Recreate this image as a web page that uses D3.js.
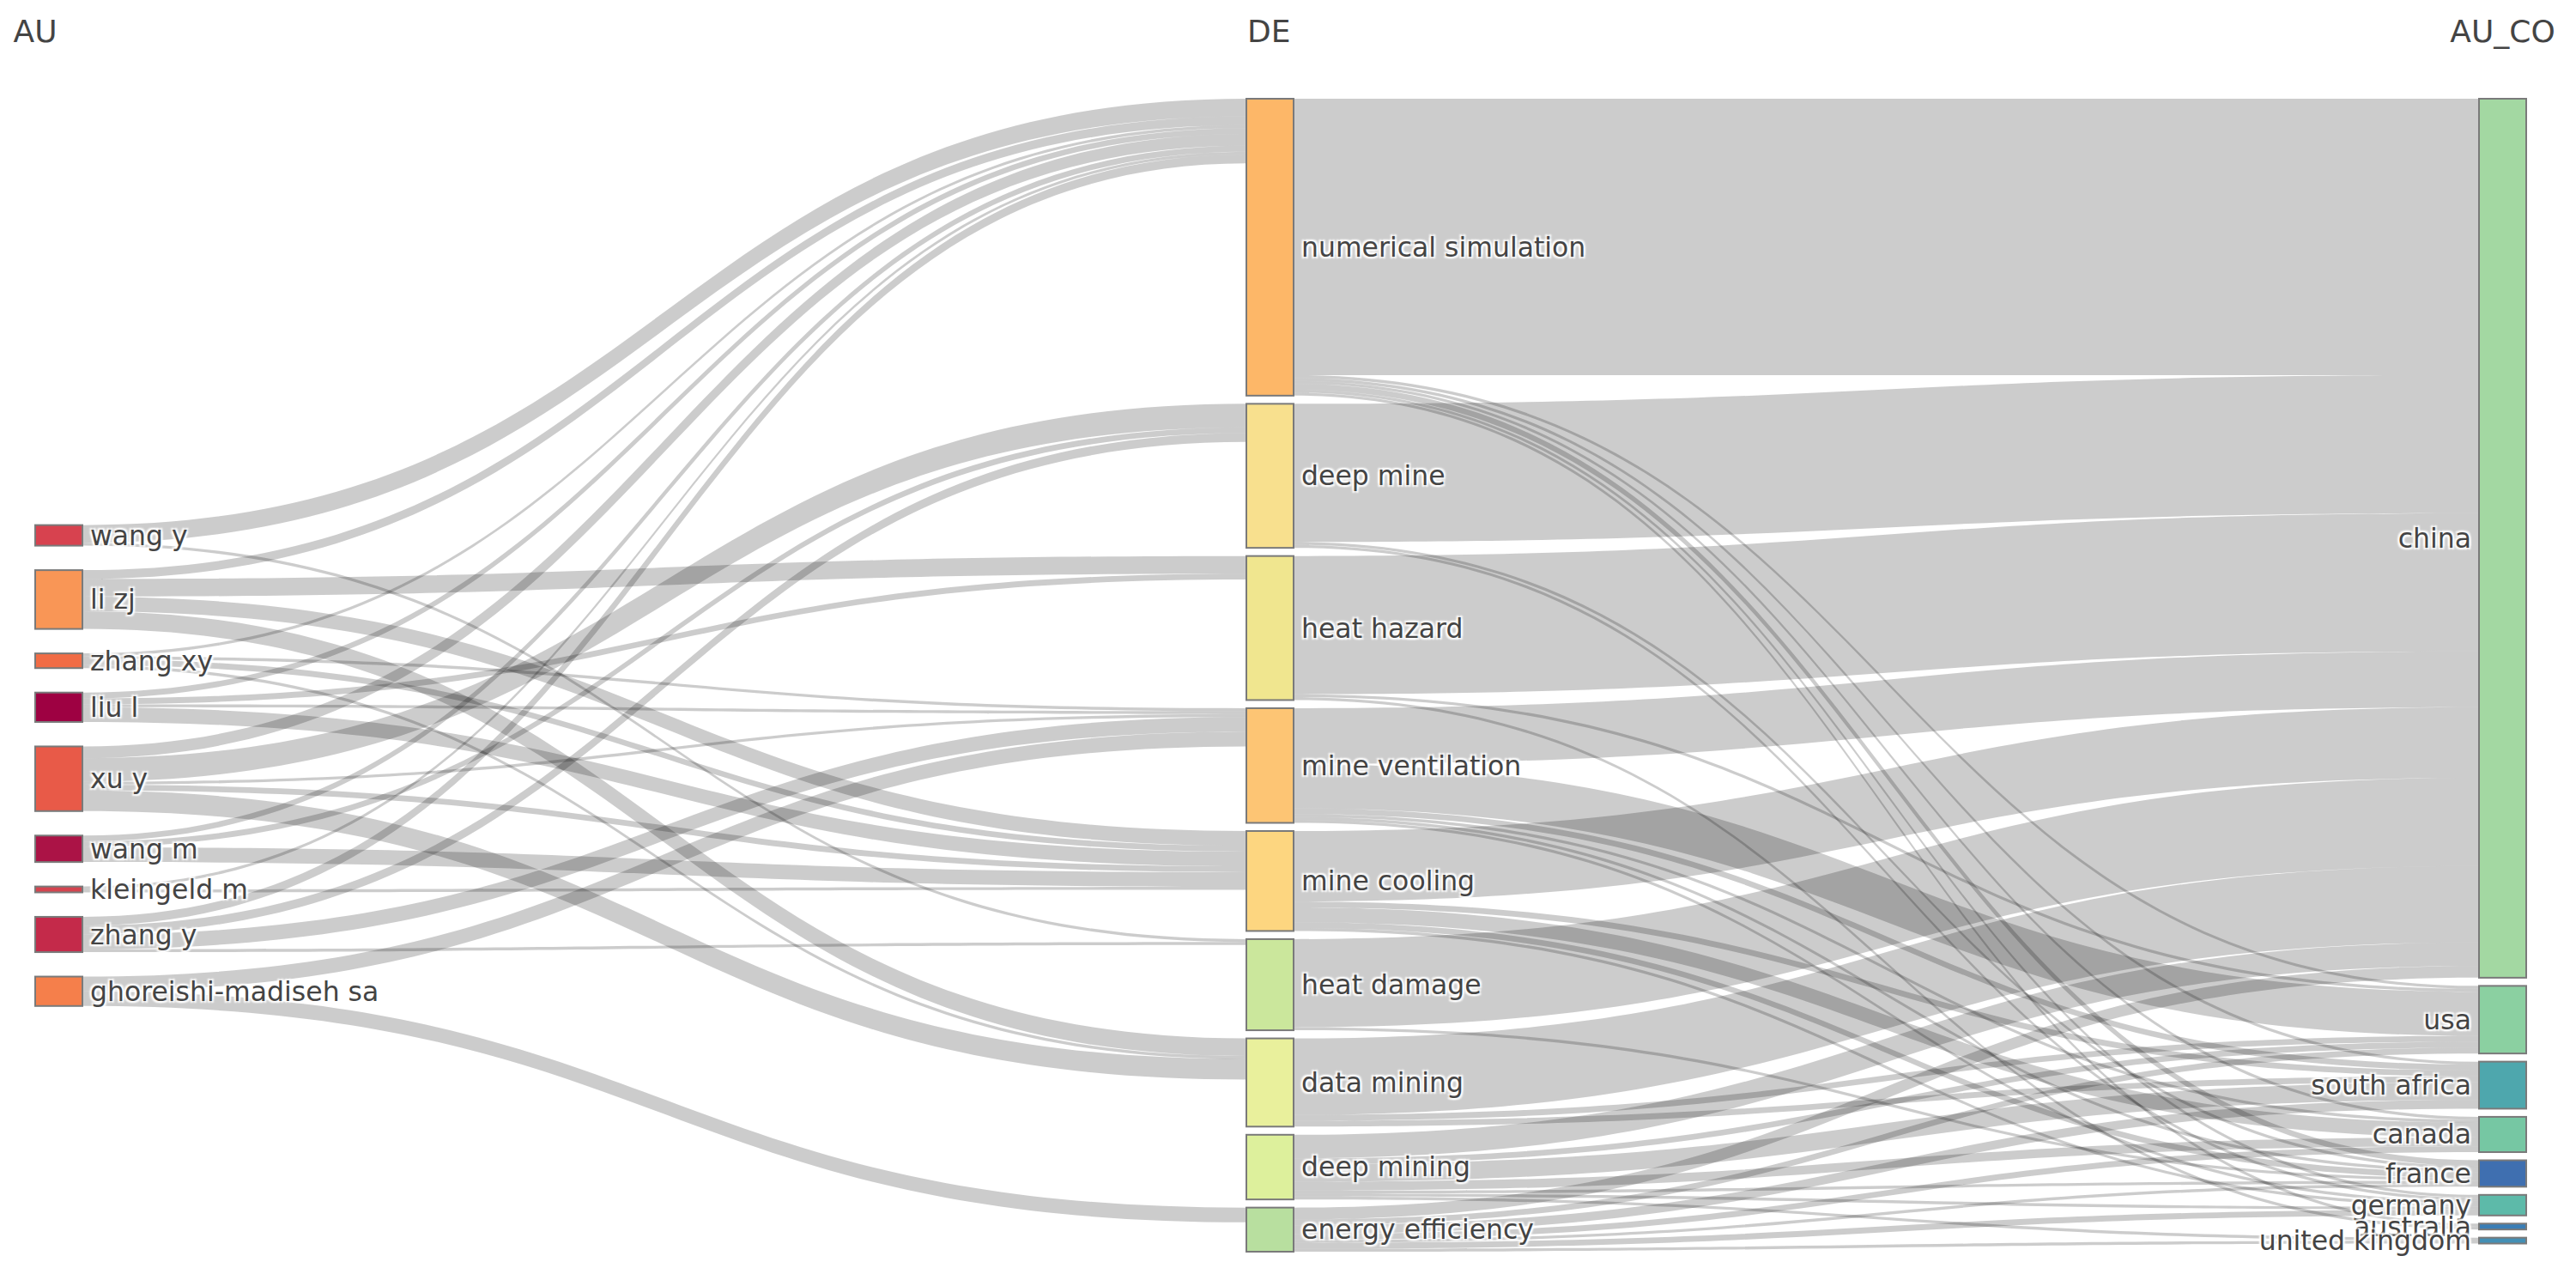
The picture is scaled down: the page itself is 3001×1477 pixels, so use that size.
<!DOCTYPE html>
<html>
<head>
<meta charset="utf-8">
<script src="https://d3js.org/d3.v7.min.js"></script>
<style>
  body { margin: 0; background: #fff; }
  text { font-family: "DejaVu Sans", Verdana, sans-serif; fill: #444; }
  .label {
    font-size: 31.5px;
    text-shadow: 2px 2px 2px #fff, -2px -2px 2px #fff, 2px -2px 2px #fff, -2px 2px 2px #fff;
  }
  .title { font-size: 36px; }
</style>
</head>
<body>
<svg id="chart"></svg>
<script>
// three fields: authors -> keywords -> author countries
const fieldTitles = ["AU", "DE", "AU_CO"];

const authors = ["wang y", "li zj", "zhang xy", "liu l", "xu y", "wang m",
                 "kleingeld m", "zhang y", "ghoreishi-madiseh sa"];
const keywords = ["numerical simulation", "deep mine", "heat hazard", "mine ventilation",
                  "mine cooling", "heat damage", "data mining", "deep mining", "energy efficiency"];
const countries = ["china", "usa", "south africa", "canada", "france", "germany",
                   "australia", "united kingdom"];

// rows = authors, columns = keywords (order as above)
const authorKeywordCounts = [
  [6, 0, 0, 0, 0, 1, 0, 0, 0],
  [3, 0, 6, 0, 5, 0, 6, 0, 0],
  [1, 0, 0, 1, 2, 0, 1, 0, 0],
  [2, 0, 2, 1, 5, 0, 0, 0, 0],
  [4, 8, 0, 1, 2, 0, 7, 0, 0],
  [2, 2, 0, 0, 5, 0, 0, 0, 0],
  [1, 0, 0, 0, 1, 0, 0, 0, 0],
  [3, 3, 0, 5, 0, 1, 0, 0, 0],
  [0, 0, 0, 5, 0, 0, 0, 0, 5]
];

// rows = keywords, columns = countries
const keywordCountryCounts = [
  [94, 1, 1, 1, 2, 1, 1, 0],
  [47, 0, 0, 0, 1, 1, 0, 0],
  [47, 1, 0, 0, 0, 0, 1, 0],
  [19, 15, 2, 1, 1, 1, 0, 0],
  [24, 0, 2, 5, 2, 1, 0, 0],
  [30, 0, 0, 0, 1, 0, 0, 0],
  [26, 2, 2, 0, 0, 0, 0, 0],
  [8, 2, 6, 3, 1, 1, 0, 1],
  [4, 2, 3, 2, 1, 2, 0, 1]
];

// node colours
const authorColors = ["#d7424f", "#f99656", "#f16c45", "#9e0142", "#e85a48",
                      "#ab1346", "#d5444f", "#c42a4a", "#f57f4b"];
const keywordColors = ["#fdb768", "#f8e08e", "#f0e68f", "#fdc574", "#fdd680",
                       "#cbe79c", "#e9f09c", "#ddf09c", "#b8df9f"];
const countryColors = ["#a3d8a2", "#8bd0a1", "#4ea7ad", "#76c7a3", "#3f6fb0",
                       "#5dbaa9", "#3a7eb6", "#438fb5"];

// layout
const width = 3001, height = 1477;
const nodeWidth = 55, nodePad = 9.5;
const sparsePad = nodePad * 3; // the thin author column is spread out
const plotTop = 115, plotBottom = 1458;
const linkColor = "rgba(0,0,0,0.2)";

const svg = d3.select("#chart")
  .attr("width", width)
  .attr("height", height)
  .style("background-color", "white");

const columns = [authors, keywords, countries];
const palettes = [authorColors, keywordColors, countryColors];

const nodes = [];
columns.forEach((names, c) => {
  names.forEach((name, i) => {
    nodes.push({name: name, col: c, color: palettes[c][i], sourceLinks: [], targetLinks: []});
  });
});
const byCol = [0, 1, 2].map(c => nodes.filter(n => n.col === c));

const links = [];
const addLinks = (matrix, fromCol, toCol) => {
  matrix.forEach((row, i) => {
    row.forEach((v, j) => {
      if (v > 0) {
        const l = {source: byCol[fromCol][i], target: byCol[toCol][j], value: v};
        links.push(l);
        l.source.sourceLinks.push(l);
        l.target.targetLinks.push(l);
      }
    });
  });
};
addLinks(authorKeywordCounts, 0, 1);
addLinks(keywordCountryCounts, 1, 2);

nodes.forEach(n => {
  n.value = Math.max(d3.sum(n.sourceLinks, l => l.value), d3.sum(n.targetLinks, l => l.value));
});

// same scale for every column, set by the fullest one
const ky = d3.min(byCol, col =>
  (plotBottom - plotTop - (col.length - 1) * nodePad) / d3.sum(col, n => n.value));
const thickness = d3.scaleLinear().domain([0, 1]).range([0, ky]);
const x = d3.scaleLinear().domain([0, 1, 2]).range([41, 1452, 2888]);

const stack = (col, start, pad) => {
  let y = start;
  col.forEach(n => {
    n.y0 = y;
    n.y1 = y + thickness(n.value);
    y = n.y1 + pad;
  });
};
stack(byCol[1], plotTop, nodePad);
stack(byCol[2], plotTop, nodePad);

// author column: one block centred on the weighted median of where its flows land
const centre = n => (n.y0 + n.y1) / 2;
const flows = byCol[0].flatMap(n => n.sourceLinks)
  .map(l => ({y: centre(l.target), v: l.value}))
  .sort((a, b) => a.y - b.y);
const half = d3.sum(flows, f => f.v) / 2;
let acc = 0;
const flowCentre = flows.find(f => (acc += f.v) >= half).y;
const blockHeight = d3.sum(byCol[0], n => thickness(n.value)) + (byCol[0].length - 1) * sparsePad;
stack(byCol[0],
  Math.max(plotTop, Math.min(plotBottom - blockHeight, flowCentre - blockHeight / 2)),
  sparsePad);

nodes.forEach(n => {
  n.x0 = x(n.col);
  n.x1 = n.x0 + nodeWidth;
});

// link offsets inside each node
nodes.forEach(n => {
  n.sourceLinks.sort((a, b) => a.target.y0 - b.target.y0);
  n.targetLinks.sort((a, b) => a.source.y0 - b.source.y0);
  let y = n.y0;
  n.sourceLinks.forEach(l => { l.width = thickness(l.value); l.sy = y; y += l.width; });
  y = n.y0;
  n.targetLinks.forEach(l => { l.ty = y; y += thickness(l.value); });
});

const linkPath = l => {
  const x0 = l.source.x1, x1 = l.target.x0, xm = (x0 + x1) / 2;
  const p = d3.path();
  p.moveTo(x0, l.sy);
  p.bezierCurveTo(xm, l.sy, xm, l.ty, x1, l.ty);
  p.lineTo(x1, l.ty + l.width);
  p.bezierCurveTo(xm, l.ty + l.width, xm, l.sy + l.width, x0, l.sy + l.width);
  p.closePath();
  return p.toString();
};

svg.append("g")
  .selectAll("path")
  .data(links)
  .join("path")
  .attr("d", linkPath)
  .attr("fill", linkColor);

svg.append("g")
  .selectAll("rect")
  .data(nodes)
  .join("rect")
  .attr("x", d => d.x0)
  .attr("y", d => d.y0)
  .attr("width", nodeWidth)
  .attr("height", d => Math.max(1, d.y1 - d.y0))
  .attr("fill", d => d.color)
  .attr("stroke", "#7a7a7a")
  .attr("stroke-width", 2);

svg.append("g")
  .selectAll("text")
  .data(nodes)
  .join("text")
  .attr("class", "label")
  .attr("x", d => d.col === 2 ? d.x0 - 9 : d.x1 + 9)
  .attr("y", d => centre(d))
  .attr("dominant-baseline", "central")
  .attr("text-anchor", d => d.col === 2 ? "end" : "start")
  .text(d => d.name);

// column titles, spread from first column edge to last column centre
const titleX = d3.scaleLinear().domain([0, 2]).range([x(0), x(2) + nodeWidth / 2]);
svg.append("g")
  .selectAll("text")
  .data(fieldTitles)
  .join("text")
  .attr("class", "title")
  .attr("x", (d, i) => titleX(i))
  .attr("y", 49)
  .attr("text-anchor", "middle")
  .text(d => d);
</script>
</body>
</html>
